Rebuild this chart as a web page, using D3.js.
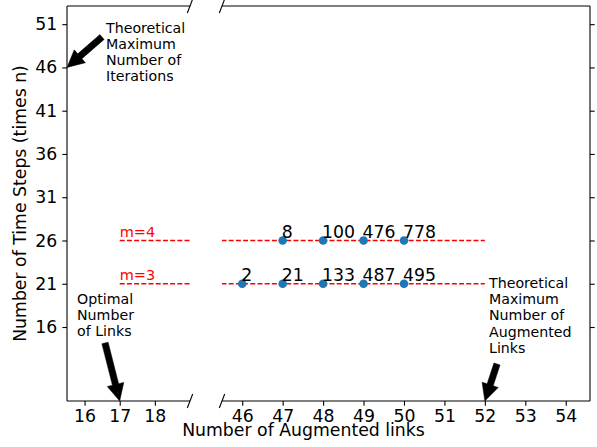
<!DOCTYPE html>
<html>
<head>
<meta charset="utf-8">
<script src="https://cdn.jsdelivr.net/npm/d3@7"></script>
<style>
  body { margin: 0; background: white; }
  svg { font-family: 'DejaVu Sans', sans-serif; }
</style>
</head>
<body>
<svg id="chart" width="597" height="447"></svg>
<script>
// broken x axis: two panels share the y axis
const leftTicks = [16, 17, 18];
const rightTicks = [46, 47, 48, 49, 50, 51, 52, 53, 54];
const yTicks = [16, 21, 26, 31, 36, 41, 46, 51];

// reference lines (m value, time steps)
const mValues = [3, 4];
const mSteps = [21, 26];
const lineStart = 17;
const lineEnd = 52;

// measured points
const m4Links = [47, 48, 49, 50];
const m4Counts = [8, 100, 476, 778];
const m3Links = [46, 47, 48, 49, 50];
const m3Counts = [2, 21, 133, 487, 495];

// annotations: arrow tip in data coords, text lines
const noteTexts = [
  ['Theoretical', 'Maximum', 'Number of', 'Iterations'],
  ['Optimal', 'Number', 'of Links'],
  ['Theoretical', 'Maximum', 'Number of', 'Augmented', 'Links']
];
const noteTips = [[15.5, 46], [17, 7.45], [52, 7.45]];
const notePanels = ['left', 'left', 'right'];

document.addEventListener('DOMContentLoaded', function () {
  drawChart();
});

function drawChart() {
  const svg = d3.select('#chart');
  const top = 6, bottom = 401;
  const leftPanel = { x0: 67, x1: 190 };
  const rightPanel = { x0: 222, x1: 590 };
  const tickFont = '17.3px';

  const xLeft = d3.scaleLinear().domain([15.5, 19]).range([leftPanel.x0, leftPanel.x1]);
  const xRight = d3.scaleLinear().domain([45.5, 54.6]).range([rightPanel.x0, rightPanel.x1]);
  const y = d3.scaleLinear().domain([7.45, 53.1]).range([bottom, top]);
  const scales = { left: xLeft, right: xRight };

  const defs = svg.append('defs');
  defs.append('clipPath').attr('id', 'clipLeft').append('rect')
    .attr('x', leftPanel.x0).attr('y', top)
    .attr('width', leftPanel.x1 - leftPanel.x0).attr('height', bottom - top);
  defs.append('clipPath').attr('id', 'clipRight').append('rect')
    .attr('x', rightPanel.x0).attr('y', top)
    .attr('width', rightPanel.x1 - rightPanel.x0).attr('height', bottom - top);

  // dashed m lines in both panels
  [['left', 'clipLeft'], ['right', 'clipRight']].forEach(function (p) {
    const xs = scales[p[0]];
    svg.append('g').attr('clip-path', 'url(#' + p[1] + ')')
      .selectAll('line')
      .data(mSteps)
      .join('line')
      .attr('x1', xs(lineStart))
      .attr('x2', xs(lineEnd))
      .attr('y1', d => y(d))
      .attr('y2', d => y(d))
      .style('stroke', 'red')
      .style('stroke-width', 1.4)
      .style('stroke-dasharray', '5,2.2');
  });

  // m labels
  svg.selectAll('.mlabel')
    .data(mValues)
    .join('text')
    .attr('class', 'mlabel')
    .attr('x', xLeft(lineStart))
    .attr('y', (d, i) => y(mSteps[i]) - 3.3)
    .style('fill', 'red')
    .style('font-size', '14.5px')
    .text(d => 'm=' + d);

  // points
  const pts = [];
  m4Links.forEach((d, i) => pts.push({ link: d, steps: mSteps[1], count: m4Counts[i] }));
  m3Links.forEach((d, i) => pts.push({ link: d, steps: mSteps[0], count: m3Counts[i] }));

  svg.selectAll('circle')
    .data(pts)
    .join('circle')
    .attr('cx', d => xRight(d.link))
    .attr('cy', d => y(d.steps))
    .attr('r', 4.3)
    .style('fill', '#1f77b4');

  svg.selectAll('.plabel')
    .data(pts)
    .join('text')
    .attr('class', 'plabel')
    .attr('x', d => xRight(d.link) - 1)
    .attr('y', d => y(d.steps) - 2.3)
    .style('font-size', '17.3px')
    .text(d => d.count);

  // spines
  const spine = (x1, y1, x2, y2) => svg.append('line')
    .attr('x1', x1).attr('y1', y1).attr('x2', x2).attr('y2', y2)
    .style('stroke', 'black').style('stroke-width', 1.1);
  spine(leftPanel.x0, top, leftPanel.x1, top);
  spine(leftPanel.x0, bottom, leftPanel.x1, bottom);
  spine(leftPanel.x0, top, leftPanel.x0, bottom);
  spine(rightPanel.x0, top, rightPanel.x1, top);
  spine(rightPanel.x0, bottom, rightPanel.x1, bottom);
  spine(rightPanel.x1, top, rightPanel.x1, bottom);

  // break marks
  [leftPanel.x1, rightPanel.x0].forEach(function (bx) {
    [top, bottom].forEach(function (by) {
      spine(bx - 2.7, by + 7, bx + 2.7, by - 7);
    });
  });

  // axes
  const styleAxis = function (g) {
    g.select('.domain').remove();
    g.selectAll('.tick line').style('stroke', 'black').style('stroke-width', 1.1);
    g.selectAll('.tick text').style('font-size', tickFont).style('font-family', 'DejaVu Sans').style('fill', 'black');
  };

  svg.append('g').attr('transform', 'translate(0,' + bottom + ')')
    .call(d3.axisBottom(xLeft).tickValues(leftTicks).tickFormat(d3.format('d')).tickSize(4.7).tickPadding(3.8))
    .call(styleAxis);
  svg.append('g').attr('transform', 'translate(0,' + bottom + ')')
    .call(d3.axisBottom(xRight).tickValues(rightTicks).tickFormat(d3.format('d')).tickSize(4.7).tickPadding(3.8))
    .call(styleAxis);
  svg.append('g').attr('transform', 'translate(' + leftPanel.x0 + ',0)')
    .call(d3.axisLeft(y).tickValues(yTicks).tickFormat(d3.format('d')).tickSize(4.7).tickPadding(5))
    .call(styleAxis);
  svg.append('g').attr('transform', 'translate(' + rightPanel.x1 + ',0)')
    .call(d3.axisRight(y).tickValues(yTicks).tickSize(4.7).tickFormat(''))
    .call(styleAxis);

  // axis labels
  svg.append('text')
    .attr('x', (leftPanel.x0 + rightPanel.x1) / 2 - 25)
    .attr('y', 436)
    .attr('text-anchor', 'middle')
    .style('font-size', tickFont)
    .text('Number of Augmented links');
  svg.append('text')
    .attr('transform', 'translate(26,' + (top + bottom) / 2 + ') rotate(-90)')
    .attr('text-anchor', 'middle')
    .style('font-size', tickFont)
    .text('Number of Time Steps (times n)');

  // annotations
  const textPos = [[106, 32.7], [77, 304], [489, 288]];
  const tails = [[102, 37], [105, 343], [497, 364]];
  noteTexts.forEach(function (lines, k) {
    const t = svg.append('text')
      .attr('x', textPos[k][0])
      .attr('y', textPos[k][1])
      .style('font-size', '14.2px');
    t.selectAll('tspan')
      .data(lines)
      .join('tspan')
      .attr('x', textPos[k][0])
      .attr('dy', (d, i) => i === 0 ? 0 : 16.2)
      .text(d => d);

    const tip = [scales[notePanels[k]](noteTips[k][0]), y(noteTips[k][1])];
    drawArrow(svg, tails[k], tip);
  });
}

function drawArrow(svg, tail, tip) {
  const dx = tip[0] - tail[0], dy = tip[1] - tail[1];
  const len = Math.sqrt(dx * dx + dy * dy);
  const ux = dx / len, uy = dy / len;
  const nx = -uy, ny = ux;
  const w = 3.2, hw = 8.5, hl = 17;
  const bx = tip[0] - ux * hl, by = tip[1] - uy * hl;
  const p = [
    [tail[0] + nx * w, tail[1] + ny * w],
    [bx + nx * w, by + ny * w],
    [bx + nx * hw, by + ny * hw],
    tip,
    [bx - nx * hw, by - ny * hw],
    [bx - nx * w, by - ny * w],
    [tail[0] - nx * w, tail[1] - ny * w]
  ];
  svg.append('path')
    .attr('d', d3.line()(p) + 'Z')
    .style('fill', 'black')
    .style('stroke', 'black')
    .style('stroke-width', 0.5);
}
</script>
</body>
</html>
